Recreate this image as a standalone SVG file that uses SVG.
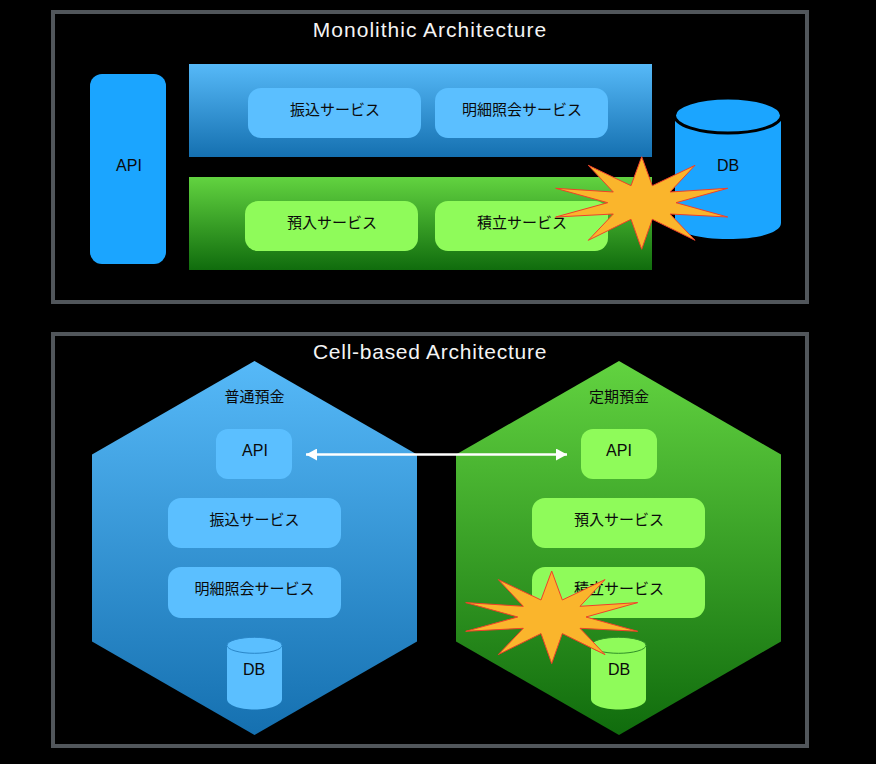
<svg xmlns="http://www.w3.org/2000/svg" width="876" height="764" viewBox="0 0 876 764">
<style>
text{font-family:"Noto Sans CJK JP","Liberation Sans",sans-serif;font-size:15px;text-anchor:middle;fill:#0a0a0a}
.lat{font-family:"Liberation Sans","Noto Sans CJK JP",sans-serif;font-size:16px}
.title{font-family:"Liberation Sans",sans-serif;font-size:21px;fill:#f4f4f4;letter-spacing:1px}
.title2{letter-spacing:.74px}
.frame{fill:#000;stroke:#51565b;stroke-width:4}
.b{fill:#5bbfff}.g{fill:#8ffb5a}.api{fill:#1ba5ff}
.star{fill:#fab52c;stroke:#f0402a;stroke-width:1}
</style>
<defs>
<linearGradient id="bg" x1="0" y1="0" x2="0" y2="1"><stop offset="0" stop-color="#56b9f8"/><stop offset="1" stop-color="#1570b0"/></linearGradient>
<linearGradient id="gg" x1="0" y1="0" x2="0" y2="1"><stop offset="0" stop-color="#62d340"/><stop offset="1" stop-color="#106c0d"/></linearGradient>
<polygon id="burst" points="588.3,165.3 631,185.7 641.7,156.7 652.3,185.7 695,165.3 670,192 727.7,188.3 676,202.7 727.7,217 670,214 695,240.3 652.3,219.3 641.7,249.3 631,219.3 588.3,240.3 613.3,214 555.7,217 607.7,202.7 555.7,188.3 613.3,192"/>
<marker id="ah" markerUnits="userSpaceOnUse" markerWidth="12" markerHeight="12" refX="11" refY="6" orient="auto-start-reverse"><path d="M0 0L11 6L0 12z" fill="#fff"/></marker>
</defs>
<rect width="876" height="764" fill="#000"/>
<g id="monolith-frame"><rect class="frame" x="53" y="12" width="754" height="290"/><text class="title" x="430" y="36.500">Monolithic Architecture</text></g>
<g id="cell-frame"><rect class="frame" x="53" y="334" width="754" height="412"/><text class="title title2" x="430" y="358.500">Cell-based Architecture</text></g>
<g id="mono-api"><rect class="api" x="90" y="74" width="76" height="190" rx="12"/><text class="lat" x="129" y="171">API</text></g>
<g id="mono-blue-layer"><rect x="189" y="64" width="463" height="93" fill="url(#bg)"/></g>
<g id="mono-green-layer"><rect x="189" y="177" width="463" height="93" fill="url(#gg)"/></g>
<g id="mono-furikomi"><rect class="b" x="248" y="88" width="173" height="50" rx="13"/><text x="335" y="114.500">振込サービス</text></g>
<g id="mono-meisai"><rect class="b" x="435" y="88" width="173" height="50" rx="13"/><text x="522" y="114.500">明細照会サービス</text></g>
<g id="mono-yonyu"><rect class="g" x="245" y="201" width="173" height="50" rx="13"/><text x="332" y="227.500">預入サービス</text></g>
<g id="mono-tsumitate"><rect class="g" x="435" y="201" width="173" height="50" rx="13"/><text x="522" y="227.500">積立サービス</text></g>
<g id="mono-db"><path class="api" d="M675 115V223C675 233 699 239 728 239S781 233 781 223V115z"/><ellipse cx="728" cy="115.500" rx="53.500" ry="17.500" class="api" stroke="#000" stroke-width="3"/><text class="lat" x="728" y="171">DB</text></g>
<g id="mono-burst"><use href="#burst" class="star"/></g>
<g id="cell-blue"><polygon points="254.500,361 417,454.500 417,641.500 254.500,735 92,641.500 92,454.500" fill="url(#bg)"/><text x="254.500" y="401.500">普通預金</text></g>
<g id="cell-green"><polygon points="619,361 781,454.500 781,641.500 619,735 456,641.500 456,454.500" fill="url(#gg)"/><text x="619" y="401.500">定期預金</text></g>
<g id="b-api"><rect class="b" x="216" y="429" width="76" height="50" rx="12"/><text class="lat" x="255" y="456">API</text></g>
<g id="b-furikomi"><rect class="b" x="168" y="498" width="173" height="50" rx="13"/><text x="254.500" y="524.500">振込サービス</text></g>
<g id="b-meisai"><rect class="b" x="168" y="567" width="173" height="51" rx="13"/><text x="254.500" y="593.500">明細照会サービス</text></g>
<g id="b-db"><path class="b" d="M227 645V699C227 705 239 709.500 254.500 709.500S282 705 282 699V645z"/><ellipse class="b" cx="254.500" cy="645.300" rx="27.500" ry="8" stroke="#2a86c8" stroke-width="1"/><text class="lat" x="254" y="675">DB</text></g>
<g id="g-api"><rect class="g" x="581" y="429" width="76" height="50" rx="12"/><text class="lat" x="619" y="456">API</text></g>
<g id="g-yonyu"><rect class="g" x="532" y="498" width="173" height="50" rx="13"/><text x="619" y="524.500">預入サービス</text></g>
<g id="g-tsumitate"><rect class="g" x="532" y="567" width="173" height="51" rx="13"/><text x="619" y="593.500">積立サービス</text></g>
<g id="g-db"><path class="g" d="M591 645V699C591 705 603 709.500 618.500 709.500S646 705 646 699V645z"/><ellipse class="g" cx="618.500" cy="645.300" rx="27.500" ry="8" stroke="#2f8f28" stroke-width="1"/><text class="lat" x="619" y="675">DB</text></g>
<g id="connectors"><line x1="306" y1="454.500" x2="567" y2="454.500" stroke="#fff" stroke-width="2.500" marker-start="url(#ah)" marker-end="url(#ah)"/></g>
<g id="cell-burst"><use href="#burst" class="star" transform="translate(-90 414.300)"/></g>
</svg>
